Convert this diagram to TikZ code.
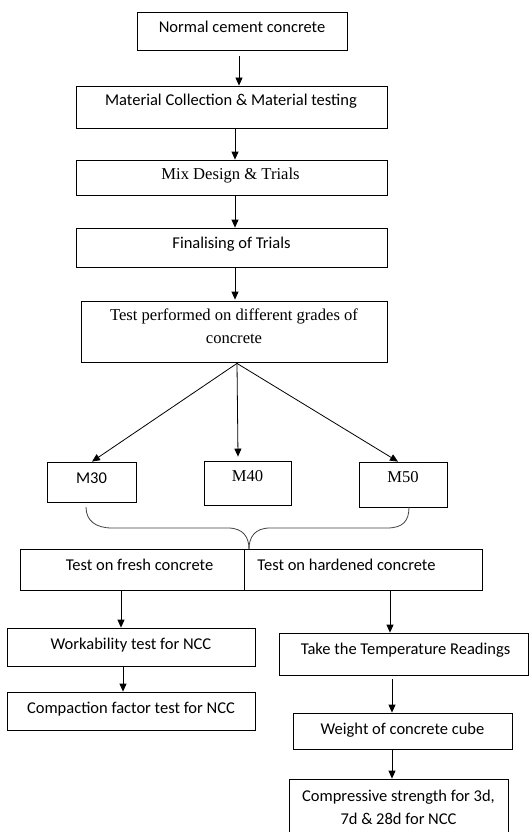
\documentclass[tikz,border=0pt]{standalone}
\usepackage{fontspec}
\setmainfont{Carlito}
\newfontfamily\tnr{Liberation Serif}
\usetikzlibrary{arrows.meta,calc}
\begin{document}
\begin{tikzpicture}[x=1pt,y=-1pt,
  box/.style={draw, line width=0.8pt, inner sep=0pt},
  txt/.style={inner sep=0pt, align=center, font=\fontsize{16.5}{23}\selectfont},
  ser/.style={inner sep=0pt, align=center, font=\tnr\fontsize{16.6}{23}\selectfont},
  arr/.style={line width=0.8pt, -{Triangle[width=7pt,length=8pt]}},
  brc/.style={line width=0.8pt, draw=black!75}]
\useasboundingbox (0,0) rectangle (529,832);
\clip (0,0) rectangle (529,832);
% boxes
\node[box, minimum width=210pt, minimum height=38pt] (b1) at (242,31) {};
\node[box, minimum width=311pt, minimum height=42pt] (b2) at (231.5,107) {};
\node[box, minimum width=311pt, minimum height=35pt] (b3) at (231.5,177.5) {};
\node[box, minimum width=311pt, minimum height=39pt] (b4) at (231.5,247.5) {};
\node[box, minimum width=306pt, minimum height=61pt] (b5) at (234,331.5) {};
\node[box, minimum width=89pt, minimum height=40pt] (m30) at (91.5,482) {};
\node[box, minimum width=87pt, minimum height=44pt] (m40) at (247.5,483) {};
\node[box, minimum width=88pt, minimum height=45pt] (m50) at (403,484.5) {};
\node[box, minimum width=224pt, minimum height=41pt] (fr) at (132,569.5) {};
\node[box, minimum width=238pt, minimum height=41pt] (hd) at (363,569.5) {};
\node[box, minimum width=248pt, minimum height=38pt] (wk) at (131,647) {};
\node[box, minimum width=248pt, minimum height=38pt] (cp) at (131,711) {};
\node[box, minimum width=249pt, minimum height=42pt] (tp) at (403.5,654) {};
\node[box, minimum width=219pt, minimum height=36pt] (wt) at (402.5,731) {};
\node[box, minimum width=219pt, minimum height=56pt] (cs) at (398.5,807) {};
% texts
\node[txt] (t1) at (242,27) {Normal cement concrete};
\node[txt] (t2) at (231,101) {Material Collection \& Material testing};
\node[ser] (t3) at (230.5,176) {Mix Design \& Trials};
\node[txt] (t4) at (231.5,244) {Finalising of Trials};
\node[ser] (t5) at (234,326.5) {Test performed on different grades of\\concrete};
\node[txt] (t6) at (91.5,478) {M30};
\node[ser] (t7) at (247.5,476) {M40};
\node[ser] (t8) at (403,477) {M50};
\node[txt] (t9) at (139.5,565) {Test on fresh concrete};
\node[txt] (t10) at (346.5,565) {Test on hardened concrete};
\node[txt] (t11) at (131,645) {Workability test for NCC};
\node[txt] (t12) at (131,709) {Compaction factor test for NCC};
\node[txt] (t13) at (405.5,650) {Take the Temperature Readings};
\node[txt] (t14) at (402.5,730) {Weight of concrete cube};
\node[txt] (t15) at (398.5,807.5) {Compressive strength for 3d,\\7d \& 28d for NCC};
% arrows
\draw[arr] ($(b1.south)+(-3,6)$) -- ($(b2.north)+(7.5,0)$);
\draw[arr] ($(b2.south)+(3.5,0)$) -- ($(b3.north)+(3.5,0)$);
\draw[arr] ($(b3.south)+(3.5,0)$) -- ($(b4.north)+(3.5,0)$);
\draw[arr] ($(b4.south)+(3.5,0)$) -- ($(b5.north)+(1,-1)$);
\coordinate (fan) at ($(b5.south)+(3,1)$);
\draw[arr] (fan) -- ($(m30.north)+(0.5,0)$);
\draw[arr] (fan) -- ($(m40.north)+(-9.5,-4)$);
\draw[arr] (fan) -- ($(m50.north)+(-5,0)$);
\draw[arr] ($(fr.south)+(-11,0)$) -- ($(wk.north)+(-10,0)$);
\draw[arr] ($(hd.south)+(27,0)$) -- ($(tp.north)+(-13.5,0)$);
\draw[arr] ($(wk.south)+(-8,0)$) -- ($(cp.north)+(-8,0)$);
\draw[arr] ($(tp.south)+(-11.5,4)$) -- ($(wt.north)+(-10.5,0)$);
\draw[arr] ($(wt.south)+(-10.5,0)$) -- ($(cs.north)+(-6.5,0)$);
% brace
\coordinate (bl) at (86,507);
\coordinate (bt) at (249,549);
\coordinate (br) at (409,507);
\draw[brc] (bl) .. controls (86,521) and (96,528) .. (112,528) -- (228,528)
  .. controls (243,528) and (249,537) .. (bt);
\draw[brc] (bt) .. controls (249,537) and (255,528) .. (270,528) -- (387,528)
  .. controls (403,528) and (409,521) .. (br);
\end{tikzpicture}
\end{document}
